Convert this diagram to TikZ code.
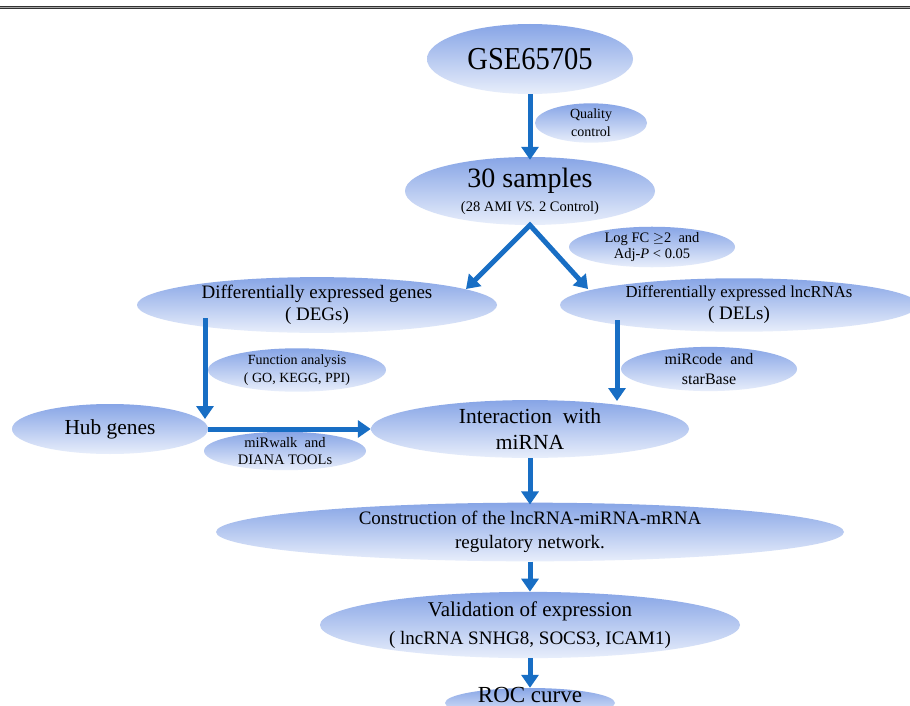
\documentclass[tikz,border=0pt]{standalone}
\usepackage{fontspec}
\setmainfont{Liberation Serif}
\usetikzlibrary{shapes.geometric,arrows.meta}
\definecolor{arrowblue}{RGB}{24,110,196}
\definecolor{elltop}{RGB}{135,165,230}
\definecolor{ellbot}{RGB}{232,238,251}
\tikzset{
  ell/.style={ellipse, inner sep=0pt, top color=elltop, bottom color=ellbot, draw=none, align=center, text=black},
  arr/.style={draw=arrowblue, line width=5pt, line join=miter, -{Triangle[length=13pt,width=17pt]}},
  arrboth/.style={draw=arrowblue, line width=5pt, line join=miter, {Triangle[length=13pt,width=17pt]}-{Triangle[length=13pt,width=17pt]}},
}
\newcommand\fsz[2]{\fontsize{#1}{#2}\selectfont}
\begin{document}
\begin{tikzpicture}[x=1pt,y=-1pt]
\useasboundingbox (0,0) rectangle (910,706);
\fill[white] (0,0) rectangle (910,706);
% top rule
\draw[line width=3pt, black!80] (0,8) -- (910,8);
\draw[line width=1pt, black!35] (0,8) -- (910,8);

% nodes
\node[ell, minimum width=206pt, minimum height=70pt, font=\fsz{28.5}{30}] (gse) at (530,59) {\scalebox{1}[1.12]{GSE65705}};
\node[ell, minimum width=112pt, minimum height=36pt, font=\fsz{14}{18}] (qc) at (591,123) {Quality\\control};
\node[ell, minimum width=250pt, minimum height=68pt, font=\fsz{14.5}{24}] (samples) at (530,191)
  {{\fsz{28}{24}30 samples}\\(28 AMI \textit{VS.} 2 Control)};
\node[ell, minimum width=166pt, minimum height=40pt, font=\fsz{14.5}{15.5}] (logfc) at (652,247)
  {Log FC $\geq$2\ \ and\\Adj-\textit{P} < 0.05};
\node[ell, minimum width=360pt, minimum height=50pt, font=\fsz{19}{22}] (degs) at (317,305)
  {Differentially expressed genes\\( DEGs)};
\node[ell, minimum width=358pt, minimum height=48pt, font=\fsz{19}{22}] (dels) at (739,305)
  {{\fsz{16.7}{22}Differentially expressed lncRNAs}\\( DELs)};
\node[ell, minimum width=178pt, minimum height=36pt, font=\fsz{14}{18}] (func) at (297,370)
  {Function analysis\\( GO, KEGG, PPI)};
\node[ell, minimum width=196pt, minimum height=50pt, font=\fsz{21.4}{24}] (hub) at (110,429) {Hub genes};
\node[ell, minimum width=162pt, minimum height=32pt, font=\fsz{14.5}{17}] (mirwalk) at (285,451)
  {miRwalk\ \ and\\DIANA TOOLs};
\node[ell, minimum width=176pt, minimum height=40pt, font=\fsz{16}{20}] (mircode) at (709,369)
  {miRcode\ \ and\\starBase};
\node[ell, minimum width=318pt, minimum height=52pt, font=\fsz{21.5}{26}] (inter) at (530,429)
  {Interaction\ \ with\\miRNA};
\node[ell, minimum width=628pt, minimum height=53pt, font=\fsz{19}{24}] (cons) at (530,532)
  {Construction of the lncRNA-miRNA-mRNA\\regulatory network.};
\node[ell, minimum width=420pt, minimum height=54pt, font=\fsz{19}{28}] (valid) at (530,625)
  {{\fsz{21}{28}Validation of expression}\\( lncRNA SNHG8, SOCS3, ICAM1)};
\node[ell, minimum width=170pt, minimum height=30pt] (roc) at (530,703) {};
\node[inner sep=0pt, font=\fsz{23}{26}] (roctext) at (530,695) {ROC curve};

% connector end points
\coordinate (degin) at (466,289);
\coordinate (delin) at (588,289);
\coordinate (degout) at (205,318);
\coordinate (hubin) at (205,419);
\coordinate (delout) at (617,320);
\coordinate (interin) at (617,401);

% connectors
\draw[arr] (gse.south) -- ([yshift=-3pt]samples.north);
\draw[arrboth] (degin) -- (samples.south) -- (delin);
\draw[arr] (degout) -- (hubin);
\draw[arr] (hub.east) -- (inter.west);
\draw[arr] (delout) -- (interin);
\draw[arr] (inter.south) -- ([yshift=-2pt]cons.north);
\draw[arr] (cons.south) -- (valid.north);
\draw[arr] (valid.south) -- (roc.north);
\end{tikzpicture}
\end{document}
